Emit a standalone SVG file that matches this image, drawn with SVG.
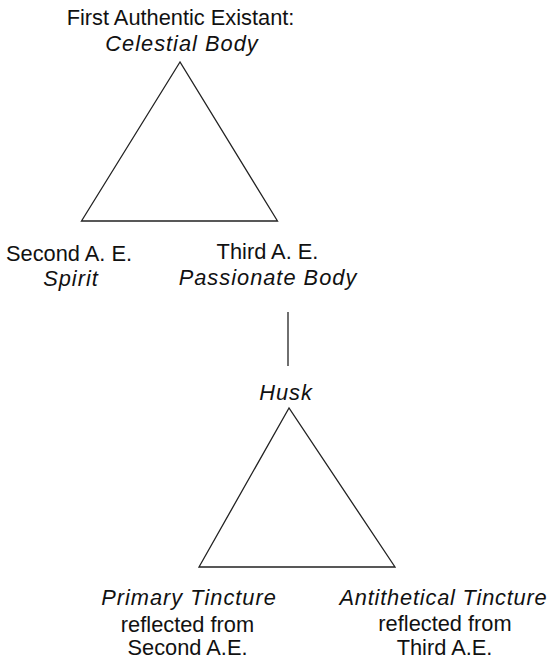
<svg xmlns="http://www.w3.org/2000/svg" width="549" height="661" viewBox="0 0 549 661">
<style>
text{font-family:"Liberation Sans",Arial,sans-serif;font-size:21.8px;fill:#111;text-anchor:middle}
.i{font-style:italic;letter-spacing:1px}
.tri{fill:none;stroke:#222;stroke-width:1.3;stroke-linejoin:miter}
.conn{stroke:#222;stroke-width:1.3}
</style>
<rect width="549" height="661" fill="#fff"/>
<g id="first">
<text x="180.5" y="25">First Authentic Existant:</text>
<text x="182" y="51" class="i">Celestial Body</text>
</g>
<g id="triangle1"><polygon class="tri" points="180,62 81.5,221 277.5,221"/></g>
<g id="second">
<text x="69" y="261">Second A. E.</text>
<text x="71" y="286" class="i">Spirit</text>
</g>
<g id="third">
<text x="267.5" y="259">Third A. E.</text>
<text x="268" y="285" class="i">Passionate Body</text>
</g>
<g id="connectors"><line class="conn" x1="288" y1="312" x2="288" y2="366"/></g>
<g id="husk"><text x="286" y="400" class="i">Husk</text></g>
<g id="triangle2"><polygon class="tri" points="289,408 199,567 395,567"/></g>
<g id="primary">
<text x="189" y="605" class="i">Primary Tincture</text>
<text x="187.5" y="632">reflected from</text>
<text x="187.5" y="655">Second A.E.</text>
</g>
<g id="antithetical">
<text x="443.5" y="605" class="i" style="letter-spacing:0.8px">Antithetical Tincture</text>
<text x="445" y="631">reflected from</text>
<text x="444.5" y="655">Third A.E.</text>
</g>
</svg>
